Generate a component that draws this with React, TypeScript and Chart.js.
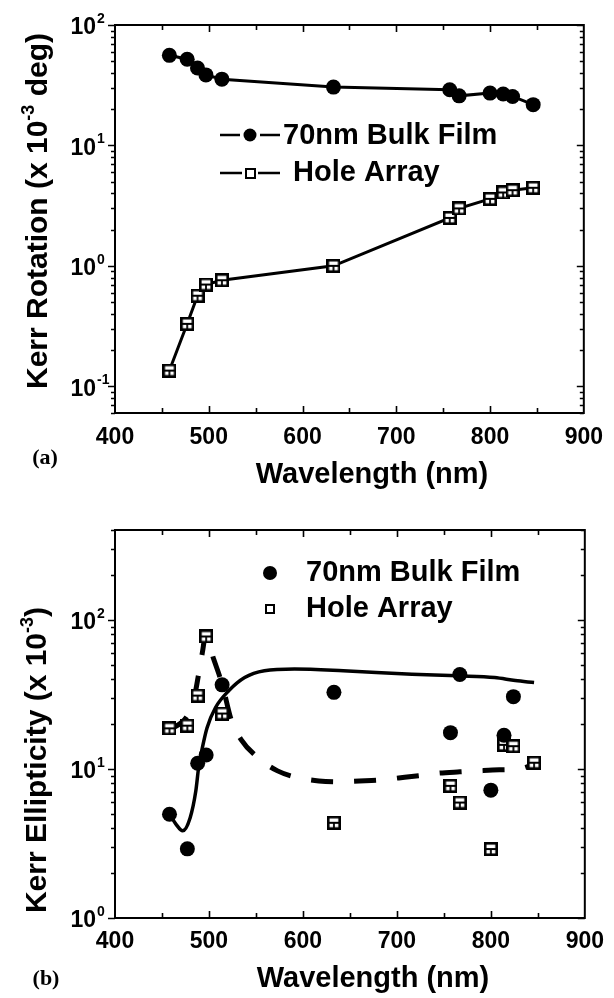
import React, { useEffect, useRef } from "react";
import { Chart, registerables } from "chart.js";

Chart.register(...registerables);

// ---------------- Data ----------------
// (a) Kerr rotation
const rotationWavelengths = [458, 477, 488, 497, 514, 633, 757, 767, 800, 814, 824, 846];
const rotationBulk = [56, 52, 44, 38.5, 35.5, 30.5, 29, 25.8, 27.2, 26.7, 25.5, 21.8];
const rotationHole = [0.135, 0.33, 0.565, 0.7, 0.76, 1.0, 2.5, 3.0, 3.6, 4.07, 4.25, 4.45];

// (b) Kerr ellipticity
const ellipBulkWavelengths = [458, 477, 488, 497, 514, 633, 757, 767, 800, 814, 824];
const ellipticityBulk = [4.96, 2.91, 10.9, 12.4, 36.6, 32.6, 17.5, 43.0, 7.2, 16.8, 30.5];
const ellipHoleWavelengths = [458, 477, 488, 497, 514, 633, 757, 767, 800, 814, 824, 846];
const ellipticityHole = [18.7, 19.5, 31.0, 77.3, 23.5, 4.35, 7.7, 5.95, 2.9, 14.5, 14.2, 11.0];

// guide curves
const bulkFitWavelengths = [458, 465, 472, 480, 486, 489, 493, 498, 507, 521, 538, 559, 591, 643, 678, 716, 765, 804, 826, 846];
const bulkFitValues = [4.97, 4.25, 3.84, 4.71, 7.1, 10.2, 13.9, 18.9, 25.8, 33.4, 41.0, 45.5, 46.7, 45.5, 44.3, 43.2, 42.1, 41.0, 39.1, 37.9];
const holeFitWavelengths = [458, 477, 484, 489, 493, 496.5, 505, 514, 524, 534, 552, 573, 594, 617, 638, 660, 680, 702, 723, 744, 767, 787, 809, 831, 846];
const holeFitValues = [18.2, 22.7, 29.4, 43.2, 60.4, 79, 54.5, 37, 21, 15.8, 11.9, 9.7, 8.75, 8.3, 8.2, 8.3, 8.4, 8.7, 9.0, 9.35, 9.55, 9.7, 9.85, 10.0, 10.7];

const xTickValues = [400, 500, 600, 700, 800, 900];
const topDecades = [2, 1, 0, -1];
const bottomDecades = [2, 1, 0];

const legendBulk = "70nm Bulk Film";
const legendHole = "Hole Array";

// ---------------- Helpers ----------------
const FONT = '"Liberation Sans", Arial, Helvetica, sans-serif';
const SERIF = '"Liberation Serif", "Times New Roman", serif';

const pts = (xs: number[], ys: number[]) => xs.map((x, i) => ({ x, y: ys[i] }));

function squareSymbol(size: number, inner: boolean, lw: number): HTMLCanvasElement {
  const c = document.createElement("canvas");
  c.width = size;
  c.height = size;
  const g = c.getContext("2d")!;
  g.fillStyle = "#fff";
  g.fillRect(0, 0, size, size);
  g.strokeStyle = "#000";
  g.lineWidth = lw;
  g.strokeRect(lw / 2, lw / 2, size - lw, size - lw);
  if (inner) {
    g.lineWidth = 1.8;
    g.beginPath();
    g.moveTo(2, size * 0.5);
    g.lineTo(size - 2, size * 0.5);
    g.moveTo(size / 2, size * 0.5);
    g.lineTo(size / 2, size - 2);
    g.stroke();
  }
  return c;
}

type Part = { t: string; sup?: boolean };

function drawRich(ctx: CanvasRenderingContext2D, parts: Part[], cx: number, cy: number, size: number, supSize: number, rotate: boolean) {
  ctx.save();
  ctx.translate(cx, cy);
  if (rotate) ctx.rotate(-Math.PI / 2);
  const widths = parts.map((p) => {
    ctx.font = `bold ${p.sup ? supSize : size}px ${FONT}`;
    return ctx.measureText(p.t).width;
  });
  const total = widths.reduce((a, b) => a + b, 0);
  let x = -total / 2;
  ctx.textAlign = "left";
  ctx.textBaseline = "alphabetic";
  ctx.fillStyle = "#000";
  const base = size * 0.36;
  parts.forEach((p, i) => {
    ctx.font = `bold ${p.sup ? supSize : size}px ${FONT}`;
    ctx.fillText(p.t, x, p.sup ? base - size * 0.42 : base);
    x += widths[i];
  });
  ctx.restore();
}

interface Decor {
  yTitle: Part[];
  yTitlePos: [number, number];
  xTitle: string;
  xTitlePos: [number, number];
  panel: string;
  panelPos: [number, number];
  decades: number[];
  legend: (ctx: CanvasRenderingContext2D) => void;
}

function decorPlugin(d: Decor) {
  return {
    id: "decor",
    beforeDatasetsDraw(chart: any) {
      const ctx: CanvasRenderingContext2D = chart.ctx;
      const { left, right, top, bottom } = chart.chartArea;
      const xs = chart.scales.x;
      const ys = chart.scales.y;
      ctx.save();
      ctx.strokeStyle = "#000";
      ctx.lineWidth = 2;
      ctx.strokeRect(left, top, right - left, bottom - top);
      ctx.lineWidth = 1.6;
      ctx.beginPath();
      // y ticks (log): left outward, right inward
      const lo = Math.floor(Math.log10(ys.min));
      const hi = Math.ceil(Math.log10(ys.max));
      for (let e = lo; e <= hi; e++) {
        for (let m = 1; m <= 9; m++) {
          const v = m * Math.pow(10, e);
          if (v < ys.min * 0.999 || v > ys.max * 1.001) continue;
          const y = Math.round(ys.getPixelForValue(v)) + 0.5;
          const len = m === 1 ? 7 : 4;
          ctx.moveTo(left, y);
          ctx.lineTo(left - len, y);
          ctx.moveTo(right, y);
          ctx.lineTo(right - len, y);
        }
      }
      // x ticks every 50 nm, inward on top and bottom
      for (let v = 450; v < 900; v += 50) {
        const x = Math.round(xs.getPixelForValue(v)) + 0.5;
        const len = v % 100 === 0 ? 7 : 5;
        ctx.moveTo(x, top);
        ctx.lineTo(x, top + len);
        ctx.moveTo(x, bottom);
        ctx.lineTo(x, bottom - len);
      }
      ctx.stroke();
      ctx.restore();
    },
    afterDraw(chart: any) {
      const ctx: CanvasRenderingContext2D = chart.ctx;
      const ys = chart.scales.y;
      ctx.save();
      ctx.fillStyle = "#000";
      // y tick labels 10^n
      d.decades.forEach((e) => {
        const y = ys.getPixelForValue(Math.pow(10, e));
        ctx.font = `bold 23px ${FONT}`;
        ctx.textAlign = "right";
        ctx.textBaseline = "middle";
        ctx.fillText("10", 96, y + 3);
        ctx.font = `bold 14px ${FONT}`;
        ctx.textAlign = "left";
        ctx.fillText(String(e), 97, y - 6);
      });
      // titles
      drawRich(ctx, d.yTitle, d.yTitlePos[0], d.yTitlePos[1], 30, 18, true);
      drawRich(ctx, [{ t: d.xTitle }], d.xTitlePos[0], d.xTitlePos[1], 29, 18, false);
      // panel label
      ctx.font = `bold 22px ${SERIF}`;
      ctx.textAlign = "center";
      ctx.textBaseline = "middle";
      ctx.fillText(d.panel, d.panelPos[0], d.panelPos[1]);
      d.legend(ctx);
      ctx.restore();
    },
  };
}

function legendText(ctx: CanvasRenderingContext2D, text: string, x: number, y: number) {
  ctx.font = `bold 29px ${FONT}`;
  ctx.textAlign = "left";
  ctx.textBaseline = "middle";
  ctx.fillStyle = "#000";
  ctx.fillText(text, x, y + 1);
}

const holeSym = squareSymbol(14, true, 2.6);
const legendSquareTop = squareSymbol(11, false, 2);
const legendSquareBottom = squareSymbol(10, false, 2);

function topLegend(ctx: CanvasRenderingContext2D) {
  ctx.strokeStyle = "#000";
  ctx.lineWidth = 2.6;
  ctx.beginPath();
  ctx.moveTo(220, 135); ctx.lineTo(240, 135);
  ctx.moveTo(260, 135); ctx.lineTo(280, 135);
  ctx.moveTo(220, 173); ctx.lineTo(242, 173);
  ctx.moveTo(258, 173); ctx.lineTo(280, 173);
  ctx.stroke();
  ctx.beginPath();
  ctx.arc(250, 135, 6.5, 0, Math.PI * 2);
  ctx.fill();
  ctx.drawImage(legendSquareTop, 245, 168);
  legendText(ctx, legendBulk, 283, 135);
  legendText(ctx, legendHole, 293, 172);
}

function bottomLegend(ctx: CanvasRenderingContext2D) {
  ctx.fillStyle = "#000";
  ctx.beginPath();
  ctx.arc(270, 74, 7, 0, Math.PI * 2);
  ctx.fill();
  ctx.drawImage(legendSquareBottom, 265, 105);
  legendText(ctx, legendBulk, 306, 73);
  legendText(ctx, legendHole, 306, 109);
}

function baseOptions(padTop: number, xHeight: number, yMin: number, yMax: number, xPad: number) {
  return {
    animation: false as const,
    responsive: false,
    devicePixelRatio: 1,
    layout: { padding: { top: padTop, right: 22, left: 0, bottom: 0 } },
    plugins: { legend: { display: false }, tooltip: { enabled: false } },
    events: [] as any[],
    scales: {
      x: {
        type: "linear" as const,
        min: 400,
        max: 900,
        afterBuildTicks: (scale: any) => {
          scale.ticks = xTickValues.map((v) => ({ value: v }));
        },
        ticks: {
          color: "#000",
          font: { family: FONT, size: 23, weight: "bold" as const },
          padding: xPad,
          maxRotation: 0,
          autoSkip: false,
        },
        grid: { display: false, drawTicks: false },
        border: { display: false },
        afterFit: (scale: any) => {
          scale.height = xHeight;
        },
      },
      y: {
        type: "logarithmic" as const,
        min: yMin,
        max: yMax,
        ticks: { display: false },
        grid: { display: false, drawTicks: false },
        border: { display: false },
        afterFit: (scale: any) => {
          scale.width = 115;
        },
      },
    },
  };
}

function topConfig(): any {
  return {
    type: "scatter",
    data: {
      datasets: [
        {
          label: legendBulk,
          data: pts(rotationWavelengths, rotationBulk),
          showLine: true,
          borderColor: "#000",
          borderWidth: 3,
          pointRadius: 7.5,
          pointBackgroundColor: "#000",
          pointBorderWidth: 0,
        },
        {
          label: legendHole,
          data: pts(rotationWavelengths, rotationHole),
          showLine: true,
          borderColor: "#000",
          borderWidth: 3,
          pointStyle: holeSym,
          pointRadius: 7,
        },
      ],
    },
    options: baseOptions(25, 86, 0.06, 100, 11),
    plugins: [
      decorPlugin({
        yTitle: [{ t: "Kerr Rotation (x 10" }, { t: "-3", sup: true }, { t: " deg)" }],
        yTitlePos: [36, 211],
        xTitle: "Wavelength (nm)",
        xTitlePos: [372, 473],
        panel: "(a)",
        panelPos: [45, 458],
        decades: topDecades,
        legend: topLegend,
      }),
    ],
  };
}

function bottomConfig(): any {
  return {
    type: "scatter",
    data: {
      datasets: [
        {
          label: legendBulk,
          data: pts(ellipBulkWavelengths, ellipticityBulk),
          showLine: false,
          pointRadius: 7.5,
          pointBackgroundColor: "#000",
          pointBorderWidth: 0,
        },
        {
          label: legendHole,
          data: pts(ellipHoleWavelengths, ellipticityHole),
          showLine: false,
          pointStyle: holeSym,
          pointRadius: 7,
        },
        {
          label: "bulk guide",
          data: pts(bulkFitWavelengths, bulkFitValues),
          showLine: true,
          borderColor: "#000",
          borderWidth: 3.5,
          pointRadius: 0,
          cubicInterpolationMode: "monotone",
        },
        {
          label: "hole guide",
          data: pts(holeFitWavelengths, holeFitValues),
          showLine: true,
          borderColor: "#000",
          borderWidth: 5,
          borderDash: [22, 21],
          pointRadius: 0,
          cubicInterpolationMode: "monotone",
        },
      ],
    },
    options: baseOptions(31, 80, 1, 400, 10),
    plugins: [
      decorPlugin({
        yTitle: [{ t: "Kerr Ellipticity (x 10" }, { t: "-3", sup: true }, { t: ")" }],
        yTitlePos: [35, 261],
        xTitle: "Wavelength (nm)",
        xTitlePos: [373, 478],
        panel: "(b)",
        panelPos: [46, 480],
        decades: bottomDecades,
        legend: bottomLegend,
      }),
    ],
  };
}

export default function App() {
  const topRef = useRef<HTMLCanvasElement>(null);
  const botRef = useRef<HTMLCanvasElement>(null);
  useEffect(() => {
    const c1 = new Chart(topRef.current!, topConfig());
    const c2 = new Chart(botRef.current!, bottomConfig());
    return () => {
      c1.destroy();
      c2.destroy();
    };
  }, []);
  return (
    <div style={{ position: "absolute", left: 0, top: 0, width: 614, height: 998, background: "#fff" }}>
      <canvas ref={topRef} width={614} height={499} style={{ position: "absolute", left: 0, top: 0, width: 614, height: 499 }} />
      <canvas ref={botRef} width={614} height={499} style={{ position: "absolute", left: 0, top: 499, width: 614, height: 499 }} />
    </div>
  );
}
